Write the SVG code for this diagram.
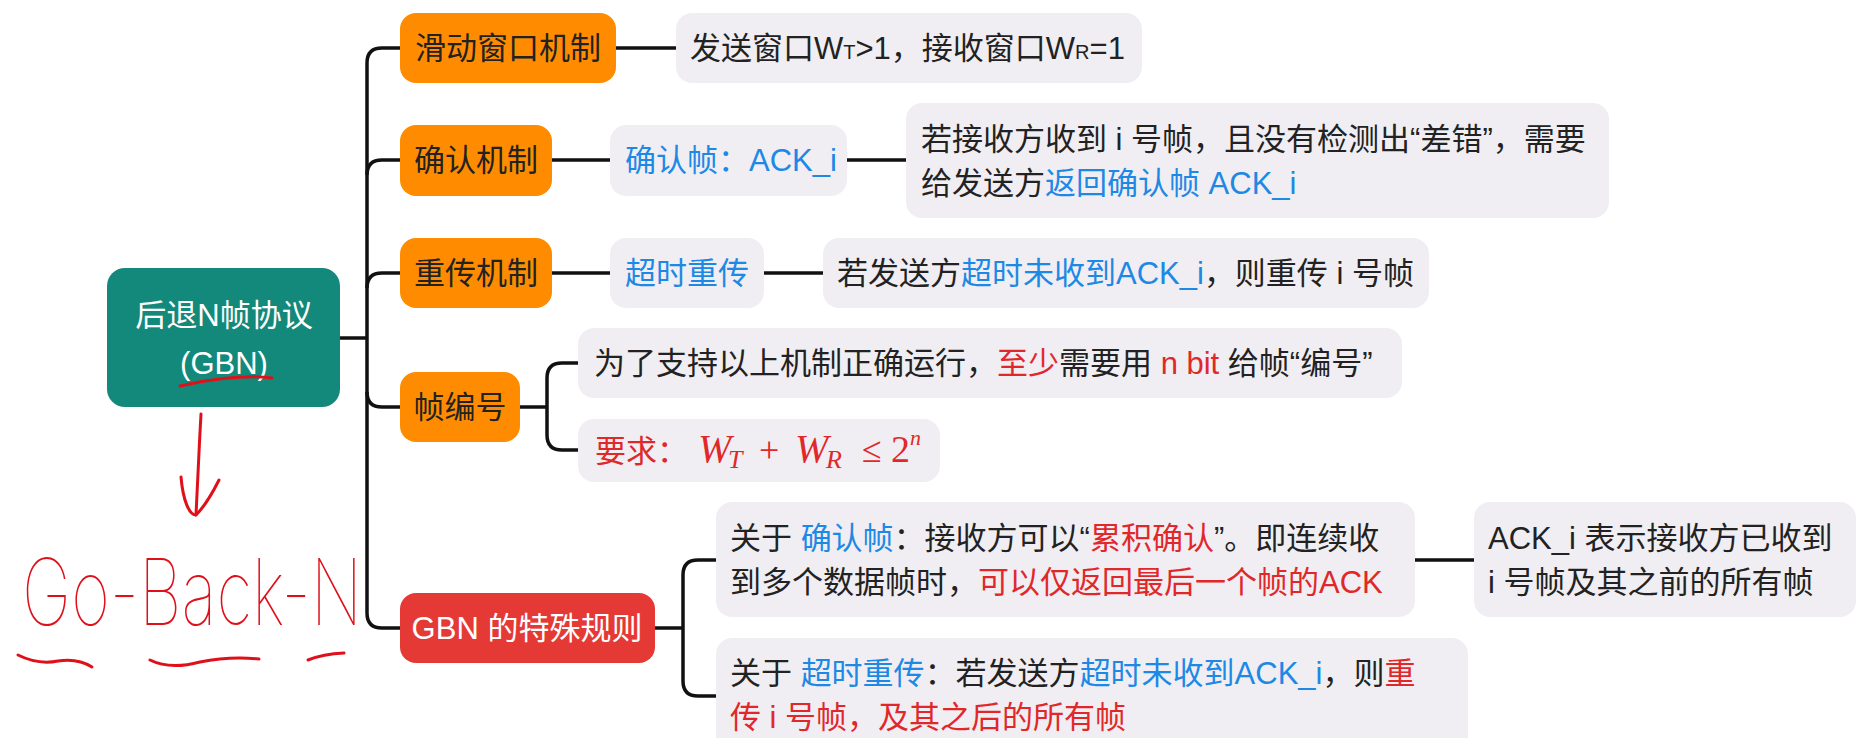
<svg xmlns="http://www.w3.org/2000/svg" width="1862" height="738" viewBox="0 0 1862 738">
<style>
.t{font-family:"Liberation Sans","Noto Sans CJK SC",sans-serif;font-size:31px;fill:#222}
.c{text-anchor:middle}
.b{fill:#1E88E5}
.r{fill:#E0282A}
.w{fill:#fff}
.l1{fill:#FF8C00}
.g{fill:#F0EEF2}
.conn{fill:none;stroke:#111;stroke-width:3.5}
.hand{fill:none;stroke:#E0101A;stroke-width:3;stroke-linecap:round;stroke-linejoin:round}
.ht{font-family:Inter,Lato,"Noto Sans",sans-serif;font-weight:100;font-size:66px;fill:#E0101A}
.m{font-family:"Liberation Serif","DejaVu Serif",serif;fill:#E0282A}
</style>
<rect width="1862" height="738" fill="#fff"/>
<g id="connectors">
<path class="conn" d="M340,338 H367"/>
<path class="conn" d="M400,48 H382 Q367,48 367,63 V613 Q367,628 382,628 H400"/>
<path class="conn" d="M367,175 Q367,160 382,160 H400"/>
<path class="conn" d="M367,288 Q367,273 382,273 H400"/>
<path class="conn" d="M367,392 Q367,407 382,407 H400"/>
<path class="conn" d="M616,48 H676"/>
<path class="conn" d="M552,160 H610"/>
<path class="conn" d="M847,160 H906"/>
<path class="conn" d="M552,273 H610"/>
<path class="conn" d="M764,273 H823"/>
<path class="conn" d="M520,407 H547"/>
<path class="conn" d="M578,363 H562 Q547,363 547,378 V435 Q547,450 562,450 H578"/>
<path class="conn" d="M655,628 H683"/>
<path class="conn" d="M716,560 H698 Q683,560 683,575 V681 Q683,696 698,696 H716"/>
<path class="conn" d="M1415,560 H1474"/>
</g>
<g id="root">
<rect x="107" y="268" width="233" height="139" rx="18" fill="#12897A"/>
<text class="t c w" x="224" y="326">后退N帧协议</text>
<text class="t c w" x="224" y="374">(GBN)</text>
</g>
<g id="n-sliding">
<rect class="l1" x="400" y="13" width="216" height="70" rx="16"/>
<text class="t c" x="508" y="59">滑动窗口机制</text>
</g>
<g id="n-ack">
<rect class="l1" x="400" y="125" width="152" height="71" rx="16"/>
<text class="t c" x="476" y="171">确认机制</text>
</g>
<g id="n-retx">
<rect class="l1" x="400" y="238" width="152" height="70" rx="16"/>
<text class="t c" x="476" y="284">重传机制</text>
</g>
<g id="n-seq">
<rect class="l1" x="400" y="372" width="120" height="70" rx="16"/>
<text class="t c" x="460" y="418">帧编号</text>
</g>
<g id="n-gbn">
<rect x="400" y="593" width="255" height="70" rx="16" fill="#E53935"/>
<text class="t c w" x="527" y="639">GBN 的特殊规则</text>
</g>
<g id="n-window">
<rect class="g" x="676" y="13" width="466" height="70" rx="16"/>
<text class="t" x="690" y="59">发送窗口W<tspan font-size="20">T</tspan>&gt;1，接收窗口W<tspan font-size="20">R</tspan>=1</text>
</g>
<g id="n-ackframe">
<rect class="g" x="610" y="125" width="237" height="71" rx="16"/>
<text class="t b" x="625" y="171">确认帧：ACK_i</text>
</g>
<g id="n-ackdesc">
<rect class="g" x="906" y="103" width="703" height="115" rx="16"/>
<text class="t" x="921" y="150">若接收方收到 i 号帧，且没有检测出“差错”，需要</text>
<text class="t" x="921" y="194">给发送方<tspan class="b">返回确认帧 ACK_i</tspan></text>
</g>
<g id="n-timeout">
<rect class="g" x="610" y="238" width="154" height="70" rx="16"/>
<text class="t b" x="625" y="284">超时重传</text>
</g>
<g id="n-timeoutdesc">
<rect class="g" x="823" y="238" width="606" height="70" rx="16"/>
<text class="t" x="837" y="284">若发送方<tspan class="b">超时未收到ACK_i</tspan>，则重传 i 号帧</text>
</g>
<g id="n-nbit">
<rect class="g" x="578" y="328" width="824" height="70" rx="16"/>
<text class="t" x="594" y="374">为了支持以上机制正确运行，<tspan class="r">至少</tspan>需要用 <tspan class="r">n bit</tspan> 给帧“编号”</text>
</g>
<g id="n-require">
<rect class="g" x="578" y="419" width="362" height="63" rx="16"/>
<text class="t r" x="595" y="462">要求：</text>
<text class="m" font-size="40" font-style="italic" x="698" y="462">W</text>
<text class="m" font-size="26" font-style="italic" x="728" y="468">T</text>
<text class="m" font-size="36" x="759" y="462">+</text>
<text class="m" font-size="40" font-style="italic" x="795" y="462">W</text>
<text class="m" font-size="26" font-style="italic" x="826" y="468">R</text>
<text class="m" font-size="36" x="862" y="462">≤</text>
<text class="m" font-size="38" x="891" y="462">2</text>
<text class="m" font-size="22" font-style="italic" x="910" y="445">n</text>
</g>
<g id="n-cumack">
<rect class="g" x="716" y="502" width="699" height="115" rx="16"/>
<text class="t" x="730" y="549">关于 <tspan class="b">确认帧</tspan>：接收方可以“<tspan class="r">累积确认</tspan>”。即连续收</text>
<text class="t" x="730" y="593">到多个数据帧时，<tspan class="r">可以仅返回最后一个帧的ACK</tspan></text>
</g>
<g id="n-ackmeaning">
<rect class="g" x="1474" y="502" width="382" height="115" rx="16"/>
<text class="t" x="1488" y="549">ACK_i 表示接收方已收到</text>
<text class="t" x="1488" y="593">i 号帧及其之前的所有帧</text>
</g>
<g id="n-gbnretx">
<rect class="g" x="716" y="638" width="752" height="130" rx="16"/>
<text class="t" x="730" y="684">关于 <tspan class="b">超时重传</tspan>：若发送方<tspan class="b">超时未收到ACK_i</tspan>，则<tspan class="r">重</tspan></text>
<text class="t r" x="730" y="728">传 i 号帧，及其之后的所有帧</text>
</g>
<g id="annotation">
<path class="hand" d="M180,386 C205,380 245,374 272,378"/>
<path class="hand" d="M201,414 C199,450 197,490 196,515"/>
<path class="hand" d="M181,477 C183,500 189,515 196,515 C205,506 213,492 219,480"/>
<text class="ht" x="22" y="0" transform="translate(0,625) scale(1,1.4)" textLength="340" lengthAdjust="spacingAndGlyphs">Go-Back-N</text>
<path class="hand" d="M18,655 Q38,665 58,661 Q78,658 92,667"/>
<path class="hand" d="M150,660 Q170,670 200,662 Q230,656 259,659"/>
<path class="hand" d="M308,660 Q323,654 344,653"/>
</g>
</svg>
